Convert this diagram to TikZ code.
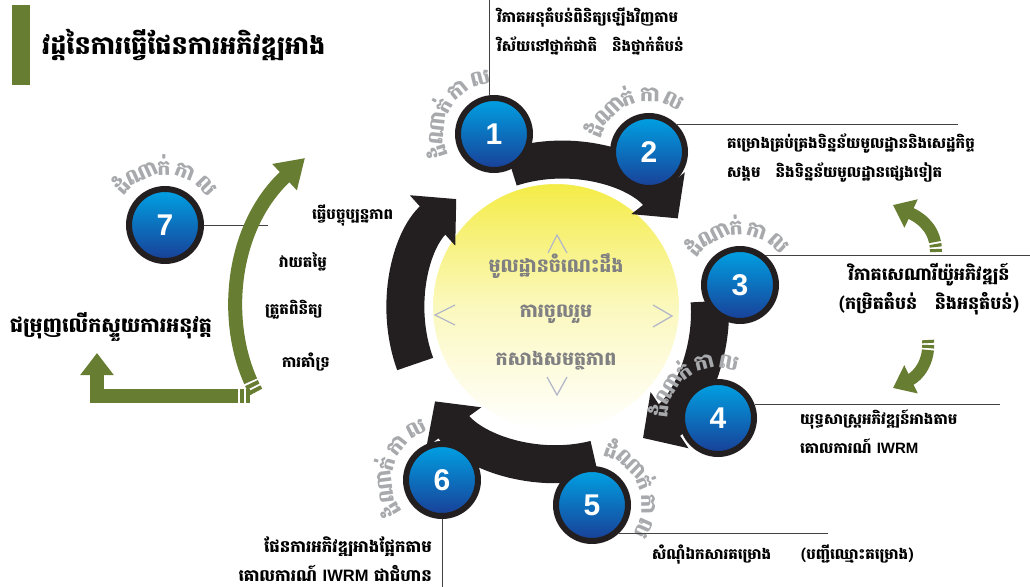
\documentclass[tikz,border=0pt]{standalone}
\usepackage{fontspec}
\setsansfont{Liberation Sans}
\newfontfamily\khmer[Script=Khmer]{Battambang}
\usetikzlibrary{arrows.meta}

\definecolor{leaf}{RGB}{103,125,50}
\definecolor{ink}{RGB}{35,31,32}
\definecolor{mist}{RGB}{167,169,172}
\definecolor{sky}{RGB}{0,162,228}
\definecolor{deep}{RGB}{25,62,150}
\definecolor{sun}{RGB}{244,236,70}
\definecolor{hint}{RGB}{180,184,200}
\definecolor{core}{RGB}{128,128,130}

\begin{document}
\begin{tikzpicture}[x=1pt,y=1pt,
    stage/.style={circle,draw=ink,line width=6pt,minimum size=72pt,inner sep=0pt,
      top color=sky,bottom color=deep,text=white,font=\sffamily\bfseries\fontsize{30}{30}\selectfont},
    phase/.style={anchor=base,inner sep=0pt,text=mist,font=\khmer\bfseries\fontsize{21}{21}\selectfont},
    note/.style={inner sep=0pt,font=\khmer\bfseries\fontsize{15}{29}\selectfont},
    hub/.style={inner sep=0pt,text=core,font=\khmer\bfseries\fontsize{19}{19}\selectfont},
    callout/.style={draw=ink!85,line width=0.8pt},
    ring/.style={draw=ink,line width=38pt,-{Triangle[width=66pt,length=32pt]}},
    vine/.style={draw=leaf,line width=14pt,dash pattern=on 4pt off 2pt on 4pt off 2pt on 600pt},
    sprout/.style={draw=leaf,line width=12pt,dash pattern=on 3pt off 2pt on 3pt off 2pt on 300pt,
      -{Triangle[width=30pt,length=20pt]}},
    chev/.style={draw=hint,line width=1.3pt}]

  \useasboundingbox (0,0) rectangle (1030,-586);

  \fill[leaf] (12,-5) rectangle (30,-85);
  \node[anchor=west,inner sep=0pt,font=\khmer\bfseries\fontsize{25.5}{25.5}\selectfont] (title) at (42,-45) {វដ្តនៃការធ្វើផែនការអភិវឌ្ឍអាង};

  \node[circle,minimum size=248pt,draw=white,line width=2pt,top color=sun,bottom color=white,middle color=sun!35!white] (sun) at (556,-307) {};
  \coordinate (hubc) at (558,-312);

  \draw[ring] (hubc) ++(108:152) arc[start angle=108,end angle=38,radius=152];
  \draw[ring] (hubc) ++(4:152) arc[start angle=4,end angle=-56,radius=152];
  \draw[ring] (hubc) ++(-76:152) arc[start angle=-76,end angle=-144,radius=152];
  \draw[ring] (hubc) ++(-160:152) arc[start angle=-160,end angle=-228,radius=152];

  \node[hub] (h1) at (556,-266) {មូលដ្ឋានចំណេះដឹង};
  \node[hub] (h2) at (556,-314) {ការចូលរួម};
  \node[hub] (h3) at (556,-361) {កសាងសមត្ថភាព};
  \draw[chev] (548,-253) -- (557,-235) -- (567,-253);
  \draw[chev] (547,-377) -- (557,-395) -- (567,-377);
  \draw[chev] (455,-305) -- (435,-315) -- (455,-325);
  \draw[chev] (653,-305) -- (672,-316) -- (653,-327);

  \node[stage] (s1) at (494,-134) {1};
  \node[stage] (s2) at (649,-152) {2};
  \node[stage] (s3) at (740,-285) {3};
  \node[stage] (s4) at (718,-418) {4};
  \node[stage] (s5) at (592,-505) {5};
  \node[stage] (s6) at (442,-480) {6};
  \node[stage] (s7) at (165,-225) {7};

  \foreach \s/\a in {s1/150,s2/110,s3/93,s4/125,s5/22,s6/163,s7/90}
    \foreach \t/\d in {ដំ/48,ណា/24,ក់/1,កា/-21,ល/-46}
      \node[phase,rotate=\a+\d-90] at ([shift={(\a+\d:50)}]\s.center) {\t};

  \draw[callout] (s1.97) -- ++(0,96);
  \draw[callout] (s2.45) -- ++(281,0);
  \draw[callout] (s3.50) -- ++(266,0);
  \draw[callout] (s4.20) -- ++(245,0);
  \draw[callout] (s5.-46) -- ++(209,0);
  \draw[callout] (s6.south) -- ++(0,-70);
  \draw[callout] (s7.east) -- ++(64,0);

  \node[note,anchor=west,align=left] (t1) at (497,-32) {វិភាគអនុតំបន់ពិនិត្យឡើងវិញតាម\\វិស័យនៅថ្នាក់ជាតិ\quad និងថ្នាក់តំបន់};
  \node[note,anchor=west,align=left] (t2) at (727,-158) {គម្រោងគ្រប់គ្រងទិន្នន័យមូលដ្ឋាននិងសេដ្ឋកិច្ច\\សង្គម\quad និងទិន្នន័យមូលដ្ឋានផ្សេងទៀត};
  \node[note,align=center,font=\khmer\bfseries\fontsize{17.5}{29}\selectfont] (t3) at (929,-289) {វិភាគសេណារីយ៉ូអភិវឌ្ឍន៍\\(កម្រិតតំបន់\quad និងអនុតំបន់)};
  \node[note,anchor=west,align=left] (t4) at (800,-432) {យុទ្ធសាស្ត្រអភិវឌ្ឍន៍អាងតាម\\គោលការណ៍ {\sffamily\bfseries IWRM}};
  \node[note,anchor=west] (t5) at (652,-555) {សំណុំឯកសារគម្រោង\qquad(បញ្ជីឈ្មោះគម្រោង)};
  \node[note,anchor=east,align=right,font=\khmer\bfseries\fontsize{16.5}{29}\selectfont] (t6) at (432,-559) {ផែនការអភិវឌ្ឍអាងផ្អែកតាម\\គោលការណ៍ {\sffamily IWRM} ជាជំហាន};

  \node[note,anchor=west] (u1) at (312,-215) {ធ្វើបច្ចុប្បន្នភាព};
  \node[note,anchor=west] (u2) at (279,-262) {វាយតម្លៃ};
  \node[note,anchor=west] (u3) at (265,-310) {ត្រួតពិនិត្យ};
  \node[note,anchor=west] (u4) at (282,-362) {ការគាំទ្រ};
  \node[note,anchor=west,font=\khmer\bfseries\fontsize{20.5}{20.5}\selectfont] (push) at (10,-327) {ជម្រុញលើកស្ទួយការអនុវត្ត};

  \draw[vine,-{Triangle[width=34pt,length=28pt]}] (256,-392) .. controls (222,-330) and (228,-230) .. (305,-158);
  \draw[vine,line join=miter,-{Triangle[width=32pt,length=22pt]}] (250,-396) -- (97,-396) -- (97,-353);
  \draw[sprout] (936,-252) .. controls (936,-232) and (925,-220) .. (893,-205);
  \draw[sprout] (928,-340) .. controls (930,-362) and (918,-376) .. (893,-388);
\end{tikzpicture}
\end{document}
